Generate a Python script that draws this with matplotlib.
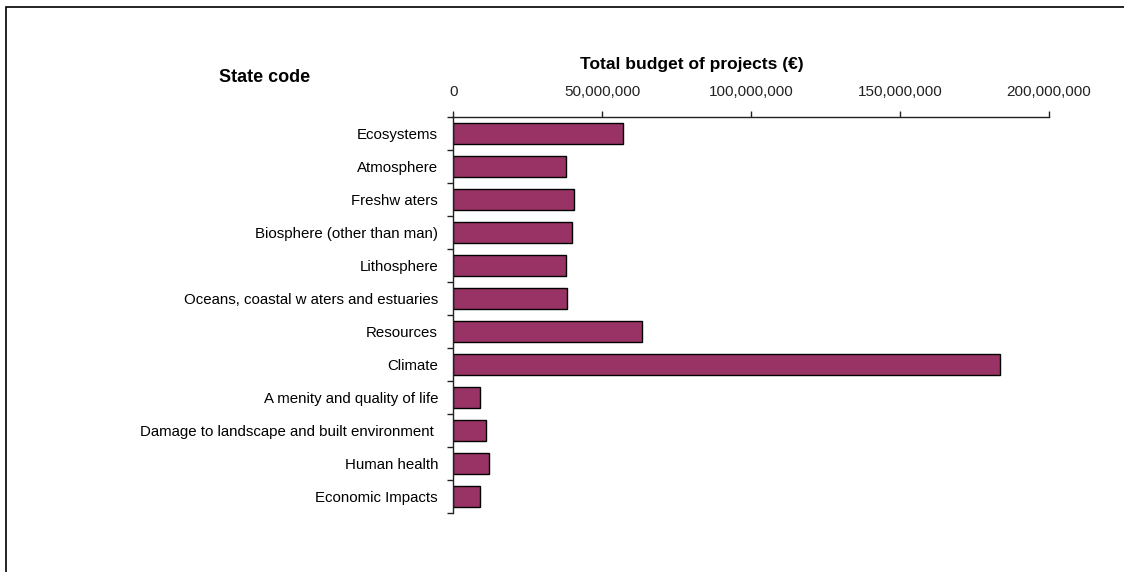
import numpy as np
import matplotlib
matplotlib.use("Agg")
import matplotlib.pyplot as plt
from matplotlib.ticker import FuncFormatter, FixedLocator
from matplotlib.patches import Rectangle

plt.rcParams['font.family'] = ['Liberation Sans', 'DejaVu Sans']

# budget per state code (EUR)
states = ["Ecosystems", "Atmosphere", "Freshw aters", "Biosphere (other than man)",
          "Lithosphere", "Oceans, coastal w aters and estuaries", "Resources", "Climate",
          "A menity and quality of life", "Damage to landscape and built environment ",
          "Human health", "Economic Impacts"]
budget = [56.9e6, 37.8e6, 40.6e6, 39.8e6, 37.9e6, 38.3e6,
          63.5e6, 183.6e6, 9.1e6, 11.0e6, 12.0e6, 9.1e6]
xticks = [0, 50e6, 100e6, 150e6, 200e6]

fig = plt.figure(figsize=(11.24, 5.72), dpi=100)
ax = fig.add_axes([0.4033, 0.1031, 0.5297, 0.6924])

y = np.arange(len(states))
ax.barh(y, budget, height=0.65, color="#993366", edgecolor="black", linewidth=1.0)

ax.set_xlim(0, 200e6)
ax.set_ylim(len(states) - 0.5, -0.5)

ax.xaxis.tick_top()
ax.set_xticks(xticks)
ax.xaxis.set_major_formatter(FuncFormatter(lambda v, p: "{:,.0f}".format(v)))
ax.tick_params(axis="x", direction="out", length=4, width=1, pad=9,
               labelsize=11, colors="#222222")

ax.set_yticks(y)
ax.set_yticklabels(states)
ax.yaxis.set_minor_locator(FixedLocator(np.arange(-0.5, len(states), 1.0)))
ax.tick_params(axis="y", which="major", length=0, pad=11, labelsize=10.8)
ax.tick_params(axis="y", which="minor", direction="out", length=4, width=1,
               color="#222222")

for side in ["right", "bottom"]:
    ax.spines[side].set_visible(False)
for side in ["top", "left"]:
    ax.spines[side].set_color("#222222")
    ax.spines[side].set_linewidth(1.0)

fig.text(0.6157, 0.888, "Total budget of projects (€)", ha="center", va="center",
         fontsize=12.5, fontweight="bold")
fig.text(0.2358, 0.865, "State code", ha="center", va="center",
         fontsize=13, fontweight="bold")

# frame around the chart area
fig.patches.append(Rectangle((0.0049, -0.05), 1.2, 1.0369, transform=fig.transFigure,
                             fill=False, edgecolor="black", linewidth=1.2))

fig.savefig("out.png", dpi=100)
